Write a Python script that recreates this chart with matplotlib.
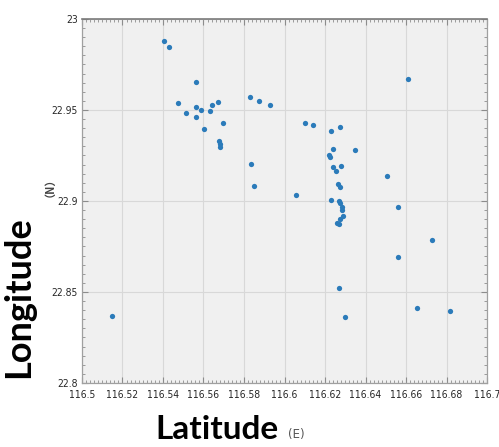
import matplotlib
matplotlib.use("Agg")
import matplotlib.pyplot as plt
from matplotlib import font_manager
from matplotlib.ticker import FixedLocator, MultipleLocator

lon = [116.5403, 116.5428, 116.5562, 116.5473, 116.5512, 116.5562, 116.5562, 116.5587,
       116.5631, 116.5641, 116.5671, 116.5601, 116.5695, 116.5676, 116.5681, 116.5681,
       116.5829, 116.5874, 116.5928, 116.5834, 116.5849, 116.6101, 116.6141, 116.6230,
       116.6275, 116.6240, 116.6220, 116.6225, 116.6349, 116.6240, 116.6255, 116.6280,
       116.6265, 116.6275, 116.6057, 116.6230, 116.6270, 116.6275, 116.6285, 116.6285,
       116.6290, 116.6275, 116.6260, 116.6270, 116.6507, 116.6562, 116.6611, 116.6562,
       116.6730, 116.6270, 116.6299, 116.6656, 116.6819, 116.5146]
lat = [22.9879, 22.9846, 22.9654, 22.9539, 22.9484, 22.9517, 22.9462, 22.9500,
       22.9495, 22.9528, 22.9544, 22.9396, 22.9429, 22.9330, 22.9314, 22.9297,
       22.9572, 22.9550, 22.9528, 22.9204, 22.9083, 22.9429, 22.9418, 22.9385,
       22.9407, 22.9286, 22.9253, 22.9242, 22.9281, 22.9187, 22.9166, 22.9193,
       22.9094, 22.9078, 22.9034, 22.9006, 22.9001, 22.8990, 22.8968, 22.8951,
       22.8918, 22.8902, 22.8880, 22.8875, 22.9138, 22.8968, 22.9671, 22.8693,
       22.8787, 22.8523, 22.8364, 22.8413, 22.8397, 22.8369]

xticks = [116.5, 116.52, 116.54, 116.56, 116.58, 116.6, 116.62, 116.64, 116.66, 116.68, 116.7]
xticklabels = ["116.5", "116.52", "116.54", "116.56", "116.58", "116.6",
               "116.62", "116.64", "116.66", "116.68", "116.7"]
yticks = [22.8, 22.85, 22.9, 22.95, 23.0]
yticklabels = ["22.8", "22.85", "22.9", "22.95", "23"]

names = {f.name for f in font_manager.fontManager.ttflist}
if "Liberation Sans Narrow" in names:
    tick_font = dict(family="Liberation Sans Narrow", size=9)
else:
    tick_font = dict(family="DejaVu Sans", size=7.4, stretch="condensed")
label_family = "Lato" if "Lato" in names else "DejaVu Sans"

fig = plt.figure(figsize=(4.99, 4.47), dpi=100)
ax = fig.add_axes([0.1643, 0.1432, 0.8117, 0.8143])
ax.set_facecolor("#f0f0f0")

ax.plot(lon, lat, "o", color="#2b7bba", markersize=3.8, markeredgewidth=0, zorder=3)

ax.set_xlim(116.5, 116.7)
ax.set_ylim(22.8, 23.0)
ax.xaxis.set_major_locator(FixedLocator(xticks))
ax.yaxis.set_major_locator(FixedLocator(yticks))
ax.set_xticklabels(xticklabels, color="#262626", **tick_font)
ax.set_yticklabels(yticklabels, color="#262626", **tick_font)
ax.xaxis.set_minor_locator(MultipleLocator(0.002))
ax.yaxis.set_minor_locator(MultipleLocator(0.005))
ax.tick_params(which="both", direction="in", top=True, right=True, color="#8c8c8c")
ax.tick_params(which="major", length=4, width=0.8, pad=5)
ax.tick_params(which="minor", length=2, width=0.6)
ax.tick_params(axis="y", which="major", pad=3)
ax.grid(True, which="major", color="#d8d8d8", linewidth=0.8)
ax.set_axisbelow(True)
for side in ["left", "bottom", "right"]:
    ax.spines[side].set_color("#a0a0a0")
    ax.spines[side].set_linewidth(0.9)
ax.spines["top"].set_color("#7a7a7a")
ax.spines["top"].set_linewidth(1.2)

fig.text(0.435, 0.018, "Latitude", fontsize=24, fontweight="bold", family=label_family,
         color="black", ha="center", va="baseline")
fig.text(0.593, 0.029, "(E)", fontsize=8.5, family="DejaVu Sans",
         color="#555555", ha="center", va="center")
fig.text(0.005, 0.335, "Longitude", fontsize=26, fontweight="bold", family=label_family,
         color="black", rotation=90, ha="left", va="center")
fig.text(0.088, 0.593, "（N）", fontsize=8, fontweight="bold",
         family=["Noto Sans CJK SC", "DejaVu Sans"],
         color="#444444", rotation=90, ha="center", va="center")

fig.savefig("out.png", dpi=100)
